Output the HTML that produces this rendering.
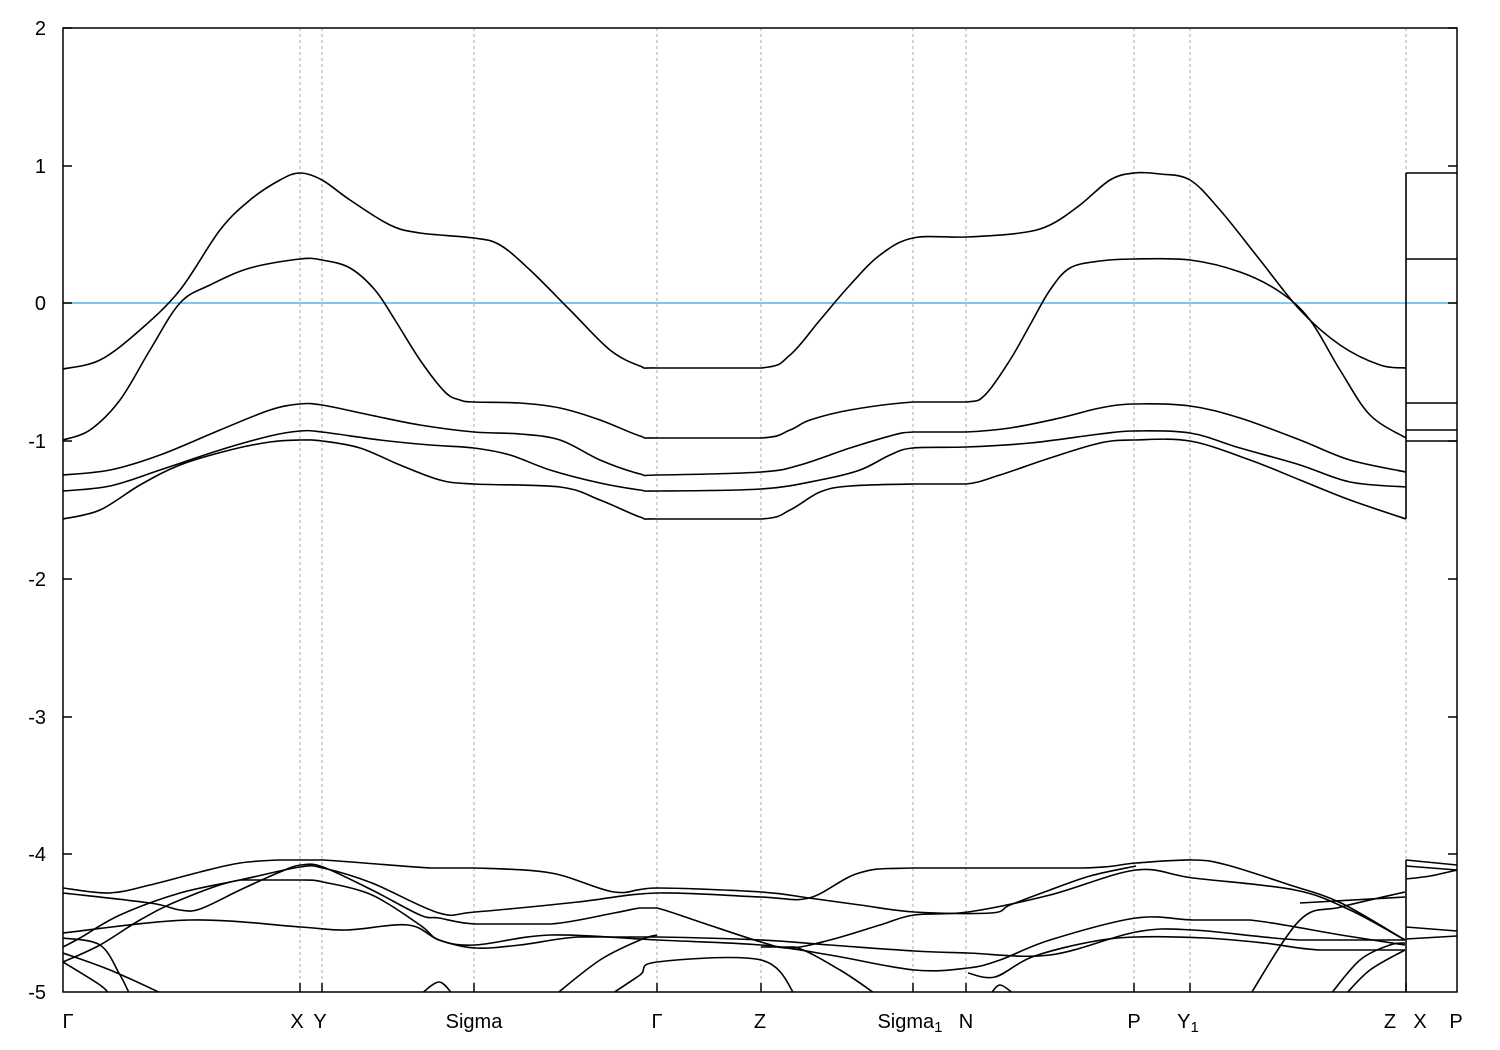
<!DOCTYPE html>
<html><head><meta charset="utf-8"><style>
html,body{margin:0;padding:0;background:#fff;}
svg{display:block;font-family:"Liberation Sans",sans-serif;}
</style></head><body>
<svg id="s" width="1500" height="1050" xmlns="http://www.w3.org/2000/svg">
<defs><clipPath id="c"><rect x="63" y="28" width="1394" height="964"/></clipPath></defs>
<rect width="1500" height="1050" fill="#fff"/>
<g stroke="#aaa" stroke-width="1" stroke-dasharray="3,3">
<line x1="300" y1="28" x2="300" y2="992"/><line x1="322" y1="28" x2="322" y2="992"/>
<line x1="474" y1="28" x2="474" y2="992"/><line x1="657" y1="28" x2="657" y2="992"/>
<line x1="761" y1="28" x2="761" y2="992"/><line x1="913" y1="28" x2="913" y2="992"/>
<line x1="966" y1="28" x2="966" y2="992"/><line x1="1134" y1="28" x2="1134" y2="992"/>
<line x1="1190" y1="28" x2="1190" y2="992"/><line x1="1406" y1="28" x2="1406" y2="992"/>
</g>
<line x1="63" y1="303" x2="1457" y2="303" stroke="#56b4e9" stroke-width="1.5"/>
<g id="bands" fill="none" stroke="#000" stroke-width="1.6" clip-path="url(#c)" stroke-linejoin="round">
<polyline points="63,369 100,360 140,330 180,290 220,230 250,200 280,180 300,173 322,180 350,200 390,225 420,233 474,238 500,245 530,270 570,310 610,350 640,366 657,368 761,368 790,355 820,320 850,285 880,255 913,238 966,237 1020,233 1050,225 1080,205 1110,180 1134,173 1160,174 1190,180 1220,210 1260,260 1300,310 1340,345 1380,365 1406,368"/>
<polyline points="63,440 90,430 120,400 150,350 180,303 210,285 250,268 300,259 322,260 350,268 375,290 395,320 420,360 445,392 460,400 474,402 520,403 560,408 600,420 640,436 657,438 761,438 790,430 810,420 850,410 913,402 966,402 985,395 1010,360 1030,325 1050,290 1070,268 1100,261 1134,259 1190,260 1240,272 1280,292 1310,320 1340,370 1370,415 1406,438"/>
<polyline points="63,475 110,470 160,455 220,430 270,410 300,404 322,405 370,415 420,425 474,432 520,434 560,440 600,460 640,474 657,475 761,472 800,465 850,448 890,436 913,432 966,432 1010,428 1060,418 1100,408 1134,404 1190,406 1240,418 1300,440 1350,460 1406,472"/>
<polyline points="63,491 110,486 160,470 220,450 270,436 300,431 322,432 380,440 430,445 474,448 510,455 550,470 600,483 640,490 657,491 761,489 820,480 860,470 890,455 913,448 966,447 1030,443 1100,434 1134,431 1190,433 1240,448 1300,465 1350,482 1406,487"/>
<polyline points="63,519 100,510 140,485 180,465 230,450 270,442 300,440 322,441 360,448 400,465 440,480 474,484 560,487 600,500 640,517 657,519 761,519 790,510 820,492 850,486 913,484 966,484 1000,475 1050,458 1100,443 1134,440 1190,441 1250,460 1300,480 1350,500 1406,519"/>
<line x1="1406" y1="173" x2="1406" y2="519"/>
<line x1="1406" y1="173" x2="1457" y2="173"/><line x1="1406" y1="259" x2="1457" y2="259"/>
<line x1="1406" y1="403" x2="1457" y2="403"/><line x1="1406" y1="430" x2="1457" y2="430"/>
<line x1="1406" y1="441" x2="1457" y2="441"/>
<polyline points="63,888 109,893 150,885 200,872 240,863 280,860 323,860 431,868 475,868 551,873 614,892 657,888 761,892 809,898 860,905 914,912 991,913 1010,905 1050,890 1090,876 1136,866"/>
<polyline points="63,947 80,938 120,915 180,893 240,880 300,867 323,868 372,883 439,913 475,912 578,902 657,893 761,897 809,898 859,873 914,868 1082,868 1136,863 1193,860 1227,865 1290,885 1341,903 1405,940"/>
<polyline points="63,893 150,903 180,910 200,909 240,890 280,872 301,865 323,867 372,890 420,915 439,918 475,924 551,924 614,913 640,908 657,908 700,922 761,942 790,948 830,940 880,925 914,915 968,912 1050,895 1136,870 1193,878 1295,890 1350,910 1405,940"/>
<polyline points="63,962 100,945 140,920 180,900 240,880 301,880 323,882 372,895 420,925 439,940 475,945 551,935 657,940 761,945 830,955 914,970 968,968 1000,960 1050,940 1136,918 1193,920 1250,920 1341,935 1405,945"/>
<polyline points="63,933 189,920 301,927 346,930 408,925 439,940 475,948 520,945 578,937 657,937 761,940 830,945 914,951 968,953 1050,955 1136,932 1193,930 1300,940 1405,940"/>
<polyline points="63,938 100,945 120,975 130,995"/>
<polyline points="63,953 110,970 165,995"/>
<polyline points="63,962 100,985 110,995"/>
<polyline points="610,995 640,975 657,962 761,960 795,995"/>
<polyline points="420,995 439,982 453,995"/>
<polyline points="555,995 600,960 640,940 657,935"/>
<polyline points="761,947 795,947 840,970 877,995"/>
<polyline points="968,973 995,977 1032,957 1090,942 1136,937 1205,938 1264,943 1320,950 1405,950"/>
<polyline points="990,995 1000,985 1015,995"/>
<polyline points="1330,995 1360,960 1390,945 1405,943"/>
<polyline points="1345,995 1370,970 1405,950"/>
<polyline points="1250,995 1300,920 1341,907 1405,892"/>
<polyline points="1300,903 1405,897"/>
<line x1="1406" y1="860" x2="1406" y2="992"/>
<polyline points="1406,860 1457,865"/><polyline points="1406,866 1457,870"/>
<polyline points="1406,879 1430,876 1457,870"/>
<polyline points="1406,927 1457,931"/><polyline points="1406,939 1457,936"/>
</g>
<rect x="63" y="28" width="1394" height="964" fill="none" stroke="#000" stroke-width="1.5"/>
<g stroke="#000" stroke-width="1.5">
<line x1="63" y1="28" x2="72" y2="28"/><line x1="1448" y1="28" x2="1457" y2="28"/>
<line x1="63" y1="166" x2="72" y2="166"/><line x1="1448" y1="166" x2="1457" y2="166"/>
<line x1="63" y1="303" x2="72" y2="303"/><line x1="1448" y1="303" x2="1457" y2="303"/>
<line x1="63" y1="441" x2="72" y2="441"/><line x1="1448" y1="441" x2="1457" y2="441"/>
<line x1="63" y1="579" x2="72" y2="579"/><line x1="1448" y1="579" x2="1457" y2="579"/>
<line x1="63" y1="717" x2="72" y2="717"/><line x1="1448" y1="717" x2="1457" y2="717"/>
<line x1="63" y1="854" x2="72" y2="854"/><line x1="1448" y1="854" x2="1457" y2="854"/>
<line x1="300" y1="983" x2="300" y2="992"/><line x1="322" y1="983" x2="322" y2="992"/>
<line x1="474" y1="983" x2="474" y2="992"/><line x1="657" y1="983" x2="657" y2="992"/>
<line x1="761" y1="983" x2="761" y2="992"/><line x1="913" y1="983" x2="913" y2="992"/>
<line x1="966" y1="983" x2="966" y2="992"/><line x1="1134" y1="983" x2="1134" y2="992"/>
<line x1="1190" y1="983" x2="1190" y2="992"/><line x1="1406" y1="983" x2="1406" y2="992"/>
</g>
<g font-size="20" fill="#000" text-anchor="end">
<text x="46" y="35">2</text><text x="46" y="173">1</text><text x="46" y="310">0</text>
<text x="46" y="448">-1</text><text x="46" y="586">-2</text><text x="46" y="724">-3</text>
<text x="46" y="861">-4</text><text x="46" y="999">-5</text>
</g>
<g font-size="20" fill="#000" text-anchor="middle">
<text x="68" y="1028">Γ</text>
<text x="297" y="1028">X</text><text x="320" y="1028">Y</text>
<text x="474" y="1028">Sigma</text>
<text x="657" y="1028">Γ</text>
<text x="760" y="1028">Z</text>
<text x="910" y="1028">Sigma<tspan font-size="15" dy="4">1</tspan></text>
<text x="966" y="1028">N</text>
<text x="1134" y="1028">P</text>
<text x="1188" y="1028">Y<tspan font-size="15" dy="4">1</tspan></text>
<text x="1390" y="1028">Z</text><text x="1420" y="1028">X</text><text x="1456" y="1028">P</text>
</g>
</svg>
<script>
(function(){
  var ns="http://www.w3.org/2000/svg";
  var pls=document.querySelectorAll("#bands polyline");
  for(var i=0;i<pls.length;i++){
    var pl=pls[i];
    var pts=pl.getAttribute("points").trim().split(/\s+/).map(function(s){var a=s.split(",");return [+a[0],+a[1]];});
    if(pts.length<3) continue;
    var d="M"+pts[0][0]+","+pts[0][1];
    for(var k=0;k<pts.length-1;k++){
      var p0=pts[k-1]||pts[k],p1=pts[k],p2=pts[k+1],p3=pts[k+2]||p2;
      var c1x=p1[0]+(p2[0]-p0[0])/6,c1y=p1[1]+(p2[1]-p0[1])/6;
      var c2x=p2[0]-(p3[0]-p1[0])/6,c2y=p2[1]-(p3[1]-p1[1])/6;
      // keep flat segments flat
      if(p1[1]===p2[1]){c1y=p1[1];c2y=p2[1];}
      d+=" C"+c1x.toFixed(1)+","+c1y.toFixed(1)+" "+c2x.toFixed(1)+","+c2y.toFixed(1)+" "+p2[0]+","+p2[1];
    }
    var p=document.createElementNS(ns,"path");
    p.setAttribute("d",d);
    pl.parentNode.replaceChild(p,pl);
  }
})();
</script>
</body></html>
